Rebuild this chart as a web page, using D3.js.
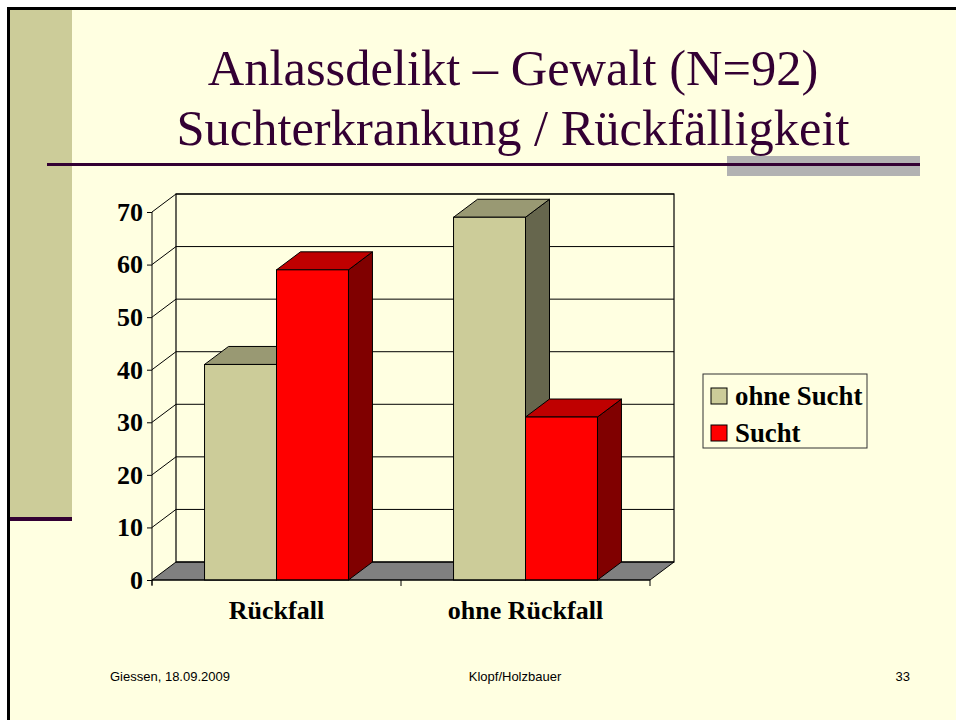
<!DOCTYPE html>
<html>
<head>
<meta charset="utf-8">
<script src="https://cdn.jsdelivr.net/npm/d3@7"></script>
<style>
  body { margin: 0; background: #fff; }
  svg { display: block; }
</style>
</head>
<body>
<svg width="956" height="720"></svg>
<script>
// Daten
var categories = ["Rückfall", "ohne Rückfall"];
var series = ["ohne Sucht", "Sucht"];
var ohneSucht = [41, 69];
var sucht = [59, 31];
var yTicks = [0, 10, 20, 30, 40, 50, 60, 70];
var colors = ["#CCCC99", "#FF0000"];

var svg = d3.select("svg"),
    bg = "#FFFFE1",
    purple = "#330033",
    serif = "'Liberation Serif', 'Times New Roman', serif",
    sans = "'Liberation Sans', Arial, sans-serif";

// Folie
svg.append("rect").attr("x", 8).attr("y", 8).attr("width", 948).attr("height", 712).attr("fill", bg);
svg.append("rect").attr("x", 10).attr("y", 10).attr("width", 62).attr("height", 508).attr("fill", "#CCCC99");
svg.append("rect").attr("x", 8).attr("y", 517).attr("width", 64).attr("height", 4).attr("fill", purple);
svg.append("line").attr("x1", 8.5).attr("x2", 8.5).attr("y1", 7).attr("y2", 720).attr("stroke", "#000").attr("stroke-width", 3);
svg.append("line").attr("x1", 7).attr("x2", 956).attr("y1", 8.5).attr("y2", 8.5).attr("stroke", "#000").attr("stroke-width", 3);

// Titel
var title = svg.append("text")
    .attr("text-anchor", "middle")
    .attr("font-family", serif)
    .attr("font-size", 50.5)
    .attr("fill", purple);
title.append("tspan").attr("x", 513).attr("y", 85).text("Anlassdelikt – Gewalt (N=92)");
title.append("tspan").attr("x", 513).attr("y", 145).text("Suchterkrankung / Rückfälligkeit");

svg.append("rect").attr("x", 727).attr("y", 156).attr("width", 193).attr("height", 20).attr("fill", "#B2B2B2");
svg.append("rect").attr("x", 47).attr("y", 163).attr("width", 873).attr("height", 3).attr("fill", purple);

// Diagramm
var dx = 24, dy = 18;
var x0 = d3.scaleBand().domain(categories).range([152, 650]);
var x1 = d3.scaleBand().domain(series).range([0, x0.bandwidth()]).paddingOuter(0.73);
var y = d3.scaleLinear().domain([0, 70]).range([580, 212]);

var chart = svg.append("g");

// Boden
chart.append("polygon")
    .attr("points", [[152, y(0)], [650, y(0)], [650 + dx, y(0) - dy], [152 + dx, y(0) - dy]].join(" "))
    .attr("fill", "#808080").attr("stroke", "#000").attr("stroke-width", 1);

// Rückwand
chart.append("rect")
    .attr("x", 152 + dx).attr("y", y(70) - dy)
    .attr("width", 650 - 152).attr("height", y(0) - y(70))
    .attr("fill", "none").attr("stroke", "#000").attr("stroke-width", 1.2);

// Gitterlinien
chart.selectAll(".grid")
  .data(yTicks.slice(1))
  .enter().append("polyline")
    .attr("class", "grid")
    .attr("points", function(d) { return [[152, y(d)], [152 + dx, y(d) - dy], [650 + dx, y(d) - dy]].join(" "); })
    .attr("fill", "none").attr("stroke", "#000").attr("stroke-width", 1);

// Balken
var bars = [];
categories.forEach(function(c, i) {
  bars.push({cat: c, s: 0, value: ohneSucht[i]});
  bars.push({cat: c, s: 1, value: sucht[i]});
});

function shade(col, k) {
  var c = d3.rgb(col);
  return d3.rgb(c.r * k, c.g * k, c.b * k).toString();
}

var bar = chart.selectAll(".bar")
  .data(bars)
  .enter().append("g")
    .attr("class", "bar");

bar.each(function(d) {
  var g = d3.select(this),
      xl = x0(d.cat) + x1(series[d.s]),
      xr = xl + x1.bandwidth(),
      yt = y(d.value),
      yb = y(0);
  g.append("polygon")
      .attr("points", [[xr, yb], [xr, yt], [xr + dx, yt - dy], [xr + dx, yb - dy]].join(" "))
      .attr("fill", shade(colors[d.s], 0.5)).attr("stroke", "#000").attr("stroke-width", 1);
  g.append("polygon")
      .attr("points", [[xl, yt], [xr, yt], [xr + dx, yt - dy], [xl + dx, yt - dy]].join(" "))
      .attr("fill", shade(colors[d.s], 0.75)).attr("stroke", "#000").attr("stroke-width", 1);
  g.append("rect")
      .attr("x", xl).attr("y", yt)
      .attr("width", xr - xl).attr("height", yb - yt)
      .attr("fill", colors[d.s]).attr("stroke", "#000").attr("stroke-width", 1);
});

// Achsen
var yAxis = chart.append("g")
    .attr("transform", "translate(152,0)")
    .call(d3.axisLeft(y).tickValues(yTicks).tickSize(5).tickPadding(4));
yAxis.select(".domain").attr("d", "M0," + y(70) + "V" + (y(0) + 5));
yAxis.selectAll("text")
    .attr("font-family", serif).attr("font-size", 26).attr("font-weight", "bold").attr("fill", "#000");

var xAxis = chart.append("g")
    .attr("transform", "translate(0," + y(0) + ")")
    .call(d3.axisBottom(x0).tickSize(0).tickPadding(21));
xAxis.select(".domain").attr("d", "M152,0H650");
xAxis.selectAll("text")
    .attr("font-family", serif).attr("font-size", 26).attr("font-weight", "bold").attr("fill", "#000");
xAxis.selectAll(".sep")
  .data(categories.map(function(c) { return x0(c); }).concat([650]))
  .enter().append("line")
    .attr("class", "sep")
    .attr("x1", function(d) { return d; }).attr("x2", function(d) { return d; })
    .attr("y1", 0).attr("y2", 6)
    .attr("stroke", "#000");

// Legende
var legend = svg.append("g").attr("transform", "translate(703,374)");
legend.append("rect")
    .attr("width", 164).attr("height", 74)
    .attr("fill", "none").attr("stroke", "#333").attr("stroke-width", 1);
var item = legend.selectAll(".item")
  .data(series)
  .enter().append("g")
    .attr("class", "item")
    .attr("transform", function(d, i) { return "translate(8," + (14 + i * 37) + ")"; });
item.append("rect")
    .attr("width", 16).attr("height", 16)
    .attr("fill", function(d, i) { return colors[i]; })
    .attr("stroke", "#000");
item.append("text")
    .attr("x", 24).attr("y", 17)
    .attr("font-family", serif).attr("font-size", 26.8).attr("font-weight", "bold")
    .text(function(d) { return d; });

// Fußzeile
var foot = svg.append("g").attr("font-family", sans).attr("font-size", 13).attr("fill", "#000");
foot.append("text").attr("x", 110).attr("y", 681).text("Giessen, 18.09.2009");
foot.append("text").attr("x", 515).attr("y", 681).attr("text-anchor", "middle").text("Klopf/Holzbauer");
foot.append("text").attr("x", 910).attr("y", 681).attr("text-anchor", "end").text("33");
</script>
</body>
</html>
